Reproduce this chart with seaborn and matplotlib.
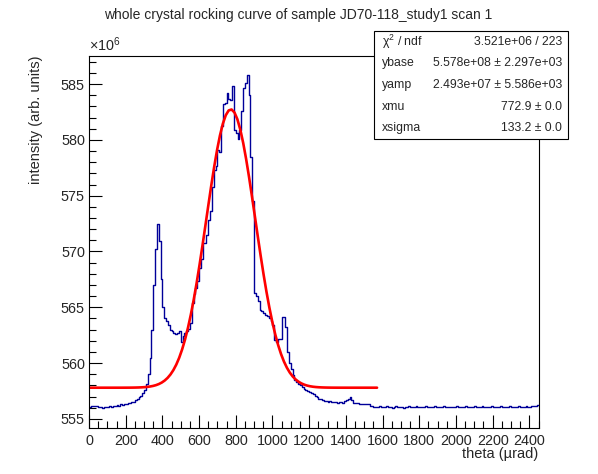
import numpy as np
import pandas as pd
import matplotlib
matplotlib.use("Agg")
import matplotlib.pyplot as plt
import seaborn as sns
from matplotlib.ticker import MultipleLocator
from matplotlib.patches import Rectangle

# ---------------- data (intensity in units of 1e6) ----------------
bin_start = 0.0
bin_width = 10.0   # urad

seg_base_left = [556.10, 556.15, 556.15, 556.20, 556.15, 556.10, 556.05, 556.00, 556.05, 556.10,
                 556.10, 556.15, 556.10, 556.20, 556.15, 556.25, 556.20, 556.30, 556.25, 556.30,
                 556.35, 556.40, 556.45, 556.50, 556.55, 556.70, 556.80, 556.95, 557.10, 557.30]
seg_side_peak = [557.60, 558.10, 559.00, 560.50, 563.00, 567.00, 570.20, 572.50, 570.90, 567.50,
                 565.00, 564.00, 563.80, 563.40, 563.00, 562.90, 562.70, 562.60, 562.70, 562.90,
                 561.90, 562.40, 562.70, 562.90, 563.10, 563.60, 565.40, 566.20, 566.70, 567.40]
seg_main_peak = [568.50, 569.30, 570.80, 570.80, 571.50, 572.80, 573.60, 575.80, 577.30, 577.70,
                 579.10, 578.90, 581.20, 583.20, 583.30, 584.20, 583.70, 583.60, 584.80, 580.90,
                 580.60, 580.10, 580.90, 582.60, 584.60, 585.10, 585.80, 584.00, 578.50, 574.50]
seg_shoulder = [566.30, 566.00, 565.60, 564.80, 564.70, 564.50, 564.30, 564.20, 564.00, 563.80,
                563.40, 562.10, 561.90, 562.20, 562.20, 564.10, 564.10, 563.20, 561.00, 560.00,
                559.50, 558.90, 558.50, 558.30, 558.10, 558.00, 557.90, 557.70, 557.60, 557.50]
seg_decay = [557.40, 557.35, 557.20, 557.10, 557.00, 556.80, 556.75, 556.70, 556.60, 556.65,
             556.55, 556.60, 556.55, 556.50, 556.55, 556.45, 556.50, 556.55, 556.45, 556.60,
             556.70, 556.80, 556.95, 556.70, 556.45, 556.40, 556.40, 556.35, 556.35, 556.30,
             556.35, 556.30, 556.30, 556.20, 556.15, 556.10]
seg_tail = [556.10, 556.05, 556.15, 556.10, 556.05, 556.10, 556.15, 556.05, 556.10, 556.00,
            556.10, 556.15, 556.05, 556.10, 556.05, 556.00, 556.10, 556.05, 556.15, 556.10,
            556.05, 556.10, 556.15, 556.10, 556.05, 556.10, 556.10, 556.15, 556.05, 556.10,
            556.10, 556.05, 556.15, 556.10, 556.10, 556.05, 556.10, 556.15, 556.10, 556.05,
            556.10, 556.10, 556.05, 556.10, 556.15, 556.10, 556.05, 556.10, 556.10, 556.15,
            556.05, 556.10, 556.10, 556.05, 556.15, 556.10, 556.05, 556.10, 556.15, 556.10,
            556.05, 556.10, 556.10, 556.15, 556.05, 556.10, 556.10, 556.05, 556.15, 556.10,
            556.10, 556.05, 556.10, 556.15, 556.10, 556.05, 556.10, 556.10, 556.15, 556.05,
            556.10, 556.10, 556.15, 556.10, 556.05, 556.20, 556.15, 556.20, 556.25]

# fit parameters (from stats box)
ybase = 5.578e8
yamp = 2.493e7
xmu = 772.9
xsigma = 133.2
fit_xmin, fit_xmax = 0.0, 1570.0

stat_names = ["χ$^{2}$ / ndf", "ybase", "yamp", "xmu", "xsigma"]
stat_values = ["3.521e+06 / 223", "5.578e+08 ± 2.297e+03", "2.493e+07 ± 5.586e+03",
               "772.9 ± 0.0", "133.2 ± 0.0"]

title = "whole crystal rocking curve of sample JD70-118_study1 scan 1"
xlabel = "theta (µrad)"
ylabel = "intensity (arb. units)"

# ---------------- build ----------------
counts = np.array(seg_base_left + seg_side_peak + seg_main_peak + seg_shoulder + seg_decay + seg_tail)
edges = bin_start + bin_width * np.arange(len(counts) + 1)
hist_df = pd.DataFrame({"x": edges, "y": np.append(counts, counts[-1])})

xf = np.linspace(fit_xmin, fit_xmax, 100)
yf = (ybase + yamp * np.exp(-0.5 * ((xf - xmu) / xsigma) ** 2)) / 1e6
fit_df = pd.DataFrame({"x": xf, "y": yf})

sns.set_style("ticks")
plt.rcParams['font.family'] = ['Liberation Sans', 'DejaVu Sans']
plt.rcParams['mathtext.fontset'] = 'custom'
plt.rcParams['mathtext.rm'] = 'Liberation Sans'
plt.rcParams['mathtext.it'] = 'Liberation Sans:italic'

W, H = 598, 474
fig = plt.figure(figsize=(W / 100, H / 100), dpi=100)
fig.patch.set_facecolor("white")
ax = fig.add_axes([89 / W, 1 - 428 / H, (538.5 - 89) / W, (428 - 56) / H])

sns.lineplot(data=hist_df, x="x", y="y", drawstyle="steps-post", color="#000099",
             lw=1.0, ax=ax, estimator=None)
sns.lineplot(data=fit_df, x="x", y="y", color="#ff0000", lw=1.9, ax=ax, estimator=None)

ax.set_xlim(0, 2450)
ax.set_ylim(554.19, 587.51)
ax.xaxis.set_major_locator(MultipleLocator(200))
ax.xaxis.set_minor_locator(MultipleLocator(50))
ax.yaxis.set_major_locator(MultipleLocator(5))
ax.yaxis.set_minor_locator(MultipleLocator(1))
ax.tick_params(which="both", direction="in", labelsize=10.4, width=0.8, color="black")
ax.tick_params(which="major", length=9.5, pad=3)
ax.tick_params(which="minor", length=5)
ax.tick_params(axis="x", pad=4)
for s in ax.spines.values():
    s.set_linewidth(0.8)
    s.set_color("black")

ax.set_xlabel(xlabel, loc="right", fontsize=10.5)
ax.xaxis.set_label_coords(1.0, -0.05)
ax.set_ylabel(ylabel, loc="top", fontsize=10.5)
ax.yaxis.set_label_coords(-0.103, 1.0)

ax.text(0.0, 1.005, "×10$^{6}$", transform=ax.transAxes, ha="left", va="bottom", fontsize=10.4)

fig.text(0.498, 1 - 15 / H, title, ha="center", va="center", fontsize=10)

# stats box
bx0, bx1, by0, by1 = 374, 568, 31, 139
fig.patches.append(Rectangle((bx0 / W, 1 - by1 / H), (bx1 - bx0) / W, (by1 - by0) / H,
                             transform=fig.transFigure, facecolor="white", edgecolor="black",
                             lw=0.8, zorder=5))
row_h = (by1 - by0) / len(stat_names)
for i, (n, v) in enumerate(zip(stat_names, stat_values)):
    yc = by0 + row_h * (i + 0.5)
    fig.text((bx0 + 8) / W, 1 - yc / H, n, ha="left", va="center", fontsize=8.8, zorder=6)
    fig.text((bx1 - 6) / W, 1 - yc / H, v, ha="right", va="center", fontsize=8.8, zorder=6)

fig.savefig("out.png", dpi=100, facecolor="white")
